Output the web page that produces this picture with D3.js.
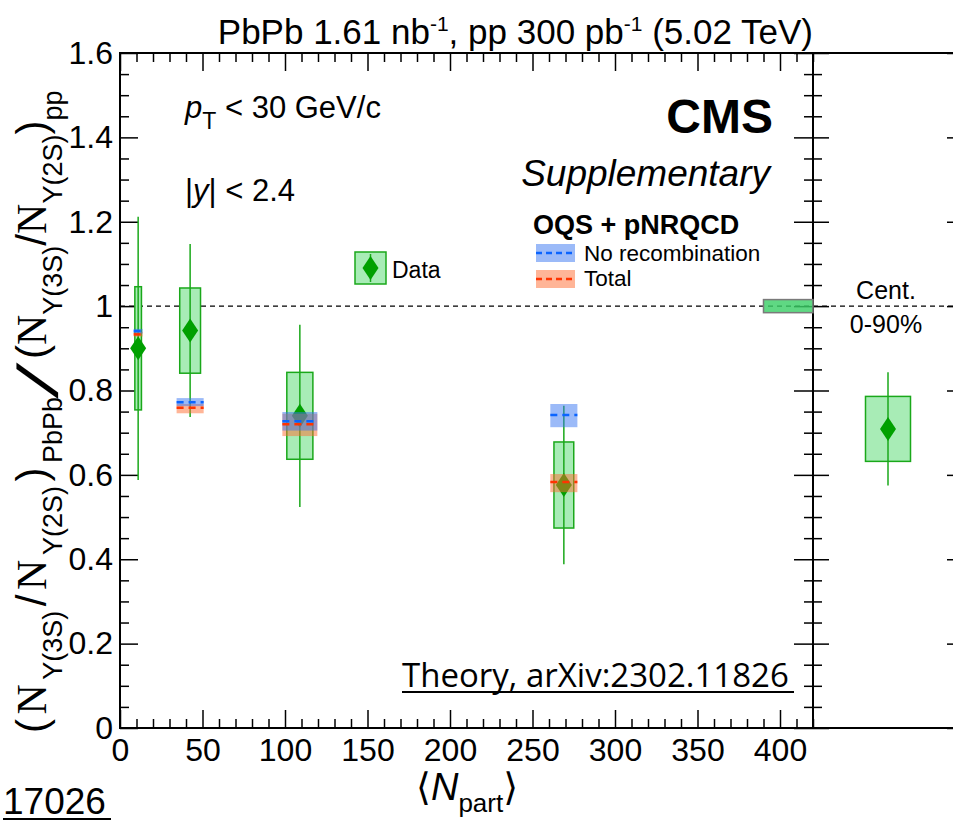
<!DOCTYPE html>
<html><head><meta charset="utf-8">
<script src="https://cdn.jsdelivr.net/npm/d3@7"></script>
<style>
body{margin:0;background:#fff;}
text{font-family:"Liberation Sans",Arial,sans-serif;}
</style></head>
<body><svg id="c" width="953" height="821"></svg>
<script>
// ---- data ----
const npart      = [11, 42.5, 109, 269];
const ratio      = [0.900, 0.942, 0.740, 0.576];
const statErr    = [0.312, 0.205, 0.216, 0.188];
const systErr    = [0.146, 0.101, 0.103, 0.102];
const boxHalfW   = [2.0, 6.3, 7.9, 6.0];       // Npart units
const bandHalfW  = [2.7, 8.2, 10.6, 8.2];      // Npart units
const noRecCent  = [0.941, 0.772, 0.727, 0.742];
const noRecLo    = [0.935, 0.763, 0.705, 0.713];
const noRecHi    = [0.946, 0.782, 0.749, 0.768];
const totCent    = [0.933, 0.759, 0.720, 0.583];
const totLo      = [0.928, 0.746, 0.692, 0.559];
const totHi      = [0.939, 0.768, 0.745, 0.602];
const intValue   = [0.709];
const intStat    = [0.134];
const intSyst    = [0.077];
const globalUnc  = [0.0155];
const xTicks     = [0, 50, 100, 150, 200, 250, 300, 350, 400];
const yTicks     = [0, 0.2, 0.4, 0.6, 0.8, 1.0, 1.2, 1.4, 1.6];

// ---- layout ----
const svg = d3.select("#c");
const L = 120, R = 813, T = 53, B = 728, R2 = 963;
const x = d3.scaleLinear([0, 420], [L, R]);
const y = d3.scaleLinear([0, 1.6], [B, T]);
const x2 = d3.scaleLinear([0, 1], [R, R2]);

const xMinor = d3.range(0, 421, 10).filter(v => v % 50 !== 0);
const yMinor = d3.range(0, 1.6001, 0.05).map(v => +v.toFixed(2)).filter(v => Math.abs(v*5 - Math.round(v*5)) > 1e-6);

function styleAxis(g){
  g.select(".domain").remove();
  g.selectAll("line").attr("stroke","#000").attr("stroke-width",1.5);
  g.selectAll("text").attr("fill","#000").style("font-family","'Liberation Sans',Arial,sans-serif");
}
// bottom
svg.append("g").attr("transform",`translate(0,${B})`)
  .call(d3.axisBottom(x).tickValues(xTicks).tickSize(-18).tickPadding(10).tickFormat(d3.format("d")))
  .call(styleAxis).selectAll("text").style("font-size","32px");
svg.append("g").attr("transform",`translate(0,${B})`)
  .call(d3.axisBottom(x).tickValues(xMinor).tickSize(-9).tickFormat(""))
  .call(styleAxis);
// top
svg.append("g").attr("transform",`translate(0,${T})`)
  .call(d3.axisTop(x).tickValues(xTicks).tickSize(-18).tickFormat(""))
  .call(styleAxis);
svg.append("g").attr("transform",`translate(0,${T})`)
  .call(d3.axisTop(x).tickValues(xMinor).tickSize(-9).tickFormat(""))
  .call(styleAxis);
// left
svg.append("g").attr("transform",`translate(${L},0)`)
  .call(d3.axisLeft(y).tickValues(yTicks).tickSize(-18).tickPadding(7).tickFormat(d3.format("~g")))
  .call(styleAxis).selectAll("text").style("font-size","32px");
svg.append("g").attr("transform",`translate(${L},0)`)
  .call(d3.axisLeft(y).tickValues(yMinor).tickSize(-9).tickFormat(""))
  .call(styleAxis);
// right of main panel (ticks pointing left)
svg.append("g").attr("transform",`translate(${R},0)`)
  .call(d3.axisRight(y).tickValues(yTicks).tickSize(-19).tickFormat(""))
  .call(styleAxis);
svg.append("g").attr("transform",`translate(${R},0)`)
  .call(d3.axisRight(y).tickValues(yMinor).tickSize(-9).tickFormat(""))
  .call(styleAxis);
// right panel left axis (ticks pointing right)
svg.append("g").attr("transform",`translate(${R},0)`)
  .call(d3.axisLeft(y).tickValues(yTicks).tickSize(-16).tickFormat(""))
  .call(styleAxis);
svg.append("g").attr("transform",`translate(${R},0)`)
  .call(d3.axisLeft(y).tickValues(yMinor).tickSize(-9).tickFormat(""))
  .call(styleAxis);
// right panel right axis
svg.append("g").attr("transform",`translate(${R2},0)`)
  .call(d3.axisRight(y).tickValues(yTicks).tickSize(-16).tickFormat(""))
  .call(styleAxis);

// frames
svg.append("rect").attr("x",L).attr("y",T).attr("width",R2-L).attr("height",B-T)
  .attr("fill","none").attr("stroke","#000").attr("stroke-width",2);
svg.append("line").attr("x1",R).attr("x2",R).attr("y1",T).attr("y2",B).attr("stroke","#000").attr("stroke-width",2);

// unity line
svg.append("line").attr("x1",L).attr("x2",R2).attr("y1",y(1)).attr("y2",y(1))
  .attr("stroke","#000").attr("stroke-width",1.3).attr("stroke-dasharray","5,4");

// global uncertainty box
svg.append("rect").attr("x",x(390)).attr("width",x(420)-x(390))
  .attr("y",y(1+globalUnc[0])).attr("height",y(1-globalUnc[0])-y(1+globalUnc[0]))
  .attr("fill","#3ccf68").attr("fill-opacity",0.82).attr("stroke","#7a7a7a").attr("stroke-width",1.5);

const green = "#1aa81a", boxFill = "#a8ecb6", diamond = "#00a000";
const idx = d3.range(npart.length);

// data: syst boxes
svg.append("g").selectAll("rect").data(idx).join("rect")
  .attr("x", i => x(npart[i]-boxHalfW[i])).attr("width", i => x(npart[i]+boxHalfW[i])-x(npart[i]-boxHalfW[i]))
  .attr("y", i => y(ratio[i]+systErr[i])).attr("height", i => y(ratio[i]-systErr[i])-y(ratio[i]+systErr[i]))
  .attr("fill",boxFill).attr("stroke",green).attr("stroke-width",1.5);
// stat bars
svg.append("g").selectAll("line").data(idx).join("line")
  .attr("x1", i => x(npart[i])).attr("x2", i => x(npart[i]))
  .attr("y1", i => y(ratio[i]+statErr[i])).attr("y2", i => y(ratio[i]-statErr[i]))
  .attr("stroke",green).attr("stroke-width",1.5);
const dia = (cx,cy) => `M${cx},${cy-12}L${cx+8},${cy}L${cx},${cy+12}L${cx-8},${cy}Z`;
svg.append("g").selectAll("path").data(idx).join("path")
  .attr("d", i => dia(x(npart[i]), y(ratio[i]))).attr("fill",diamond);

// model bands
const blueBand = "rgba(55,117,241,0.5)", redBand = "rgba(255,107,47,0.5)";
const blueLine = "#0a64ff", redLine = "#ff3300";
svg.append("g").selectAll("rect").data(idx).join("rect")
  .attr("x", i => x(npart[i]-bandHalfW[i])).attr("width", i => x(npart[i]+bandHalfW[i])-x(npart[i]-bandHalfW[i]))
  .attr("y", i => y(totHi[i])).attr("height", i => y(totLo[i])-y(totHi[i])).attr("fill",redBand);
svg.append("g").selectAll("rect").data(idx).join("rect")
  .attr("x", i => x(npart[i]-bandHalfW[i])).attr("width", i => x(npart[i]+bandHalfW[i])-x(npart[i]-bandHalfW[i]))
  .attr("y", i => y(noRecHi[i])).attr("height", i => y(noRecLo[i])-y(noRecHi[i])).attr("fill",blueBand);
svg.append("g").selectAll("line").data(idx).join("line")
  .attr("x1", i => x(npart[i]-bandHalfW[i])).attr("x2", i => x(npart[i]+bandHalfW[i]))
  .attr("y1", i => y(noRecCent[i])).attr("y2", i => y(noRecCent[i]))
  .attr("stroke",blueLine).attr("stroke-width",2.5).attr("stroke-dasharray","7,5");
svg.append("g").selectAll("line").data(idx).join("line")
  .attr("x1", i => x(npart[i]-bandHalfW[i])).attr("x2", i => x(npart[i]+bandHalfW[i]))
  .attr("y1", i => y(totCent[i])).attr("y2", i => y(totCent[i]))
  .attr("stroke",redLine).attr("stroke-width",2.5).attr("stroke-dasharray","7,5");

// integrated point (right panel)
const ix = 0.5, ihw = 0.15;
svg.append("rect").attr("x",x2(ix-ihw)).attr("width",x2(ix+ihw)-x2(ix-ihw))
  .attr("y",y(intValue[0]+intSyst[0])).attr("height",y(intValue[0]-intSyst[0])-y(intValue[0]+intSyst[0]))
  .attr("fill",boxFill).attr("stroke",green).attr("stroke-width",1.5);
svg.append("line").attr("x1",x2(ix)).attr("x2",x2(ix))
  .attr("y1",y(intValue[0]+intStat[0])).attr("y2",y(intValue[0]-intStat[0]))
  .attr("stroke",green).attr("stroke-width",1.5);
svg.append("path").attr("d",dia(x2(ix),y(intValue[0]))).attr("fill",diamond);
svg.append("text").attr("x",886).attr("y",299).attr("text-anchor","middle").style("font-size","25px").text("Cent.");
svg.append("text").attr("x",886).attr("y",333).attr("text-anchor","middle").style("font-size","25px").text("0-90%");

// title
const title = svg.append("text").attr("x",813).attr("y",44).attr("text-anchor","end").style("font-size","35px");
title.append("tspan").text("PbPb 1.61 nb");
title.append("tspan").attr("dy",-13).style("font-size","21px").text("-1");
title.append("tspan").attr("dy",13).text(", pp 300 pb");
title.append("tspan").attr("dy",-13).style("font-size","21px").text("-1");
title.append("tspan").attr("dy",13).text(" (5.02 TeV)");

// CMS labels
svg.append("text").attr("x",773).attr("y",133).attr("text-anchor","end")
  .style("font-size","48px").style("font-weight","bold").text("CMS");
svg.append("text").attr("x",770).attr("y",186).attr("text-anchor","end")
  .style("font-size","37px").style("font-style","italic").text("Supplementary");

// kinematic labels
const pt = svg.append("text").attr("x",185).attr("y",118).style("font-size","31px");
pt.append("tspan").style("font-style","italic").text("p");
pt.append("tspan").attr("dy",11).style("font-size","23px").text("T");
pt.append("tspan").attr("dy",-11).text(" < 30 GeV/c");
const yl = svg.append("text").attr("x",185).attr("y",201).style("font-size","31px");
yl.append("tspan").text("|");
yl.append("tspan").style("font-style","italic").text("y");
yl.append("tspan").text("| < 2.4");

// legend: data
svg.append("rect").attr("x",355).attr("y",252).attr("width",31).attr("height",32)
  .attr("fill",boxFill).attr("stroke",green).attr("stroke-width",1.5);
svg.append("line").attr("x1",370.5).attr("x2",370.5).attr("y1",254).attr("y2",282).attr("stroke",green).attr("stroke-width",1.5);
svg.append("path").attr("d",dia(370.5,268)).attr("fill",diamond);
svg.append("text").attr("x",392).attr("y",278).style("font-size","23px").text("Data");

// legend: model
svg.append("text").attr("x",533).attr("y",234).style("font-size","27px").style("font-weight","bold").text("OQS + pNRQCD");
svg.append("rect").attr("x",536).attr("y",244).attr("width",39).attr("height",18).attr("fill",blueBand);
svg.append("line").attr("x1",536).attr("x2",575).attr("y1",253).attr("y2",253).attr("stroke",blueLine).attr("stroke-width",2.5).attr("stroke-dasharray","6,4");
svg.append("text").attr("x",584).attr("y",261).style("font-size","22.5px").text("No recombination");
svg.append("rect").attr("x",536).attr("y",270).attr("width",39).attr("height",18).attr("fill",redBand);
svg.append("line").attr("x1",536).attr("x2",575).attr("y1",279).attr("y2",279).attr("stroke",redLine).attr("stroke-width",2.5).attr("stroke-dasharray","6,4");
svg.append("text").attr("x",584).attr("y",286).style("font-size","22.5px").text("Total");

// theory reference
svg.append("text").attr("x",402).attr("y",687).style("font-size","33px")
  .style("font-family","'Open Sans',sans-serif").text("Theory, arXiv:2302.11826");
svg.append("line").attr("x1",402).attr("x2",794).attr("y1",692).attr("y2",692).attr("stroke","#000").attr("stroke-width",2);

// bottom-left id
svg.append("text").attr("x",3).attr("y",814).style("font-size","37px").text("17026");
svg.append("line").attr("x1",3).attr("x2",111).attr("y1",819).attr("y2",819).attr("stroke","#000").attr("stroke-width",2);

// x axis title
const xt = svg.append("text").attr("x",467).attr("y",800).attr("text-anchor","middle").style("font-size","38px");
xt.append("tspan").style("font-family","'DejaVu Sans',sans-serif").style("font-weight","200").text("\u27E8");
xt.append("tspan").style("font-style","italic").text("N");
xt.append("tspan").attr("dy",12).style("font-size","26px").text("part");
xt.append("tspan").attr("dy",-12).style("font-family","'DejaVu Sans',sans-serif").text("\u27E9");

// y axis title: numerator / big slash / denominator
const yg = svg.append("g").attr("transform","translate(46,733) rotate(-90)");
const big = 42, sub = 27, sh = 16;
function buildPart(x0, target, segs){
  const t = yg.append("text").attr("x",x0).attr("y",0);
  const spans = segs.map(([txt, kind]) => {
    const s = t.append("tspan").text(txt);
    if(kind === "N"){ s.style("font-family","'Liberation Serif',serif").style("font-size",big+"px"); }
    else if(kind === "sub"){ s.style("font-size",sub+"px"); }
    else { s.style("font-size",big+"px"); }
    return {s, kind};
  });
  let prevSub = false;
  spans.forEach(o => {
    const isSub = o.kind === "sub";
    if(isSub && !prevSub) o.s.attr("dy",sh);
    if(!isSub && prevSub) o.s.attr("dy",-sh);
    prevSub = isSub;
  });
  const natural = t.node().getComputedTextLength();
  const gap = Math.max(0, (target - natural) / (spans.length - 1));
  spans.forEach((o,i) => { if(i>0) o.s.attr("dx",gap); });
  return t;
}
const segs = [["(", "p"],["N","N"],["\u03A5(3S)","sub"],["/","p"],["N","N"],["\u03A5(2S)","sub"],[")","p"]];
buildPart(0, 336, segs.concat([["PbPb","sub"]]));
yg.append("text").attr("transform","translate(334,11) skewX(-28)")
  .style("font-size","56px").style("font-weight","bold").text("/");
buildPart(374, 258, segs.concat([["pp","sub"]]));
</script></body></html>
